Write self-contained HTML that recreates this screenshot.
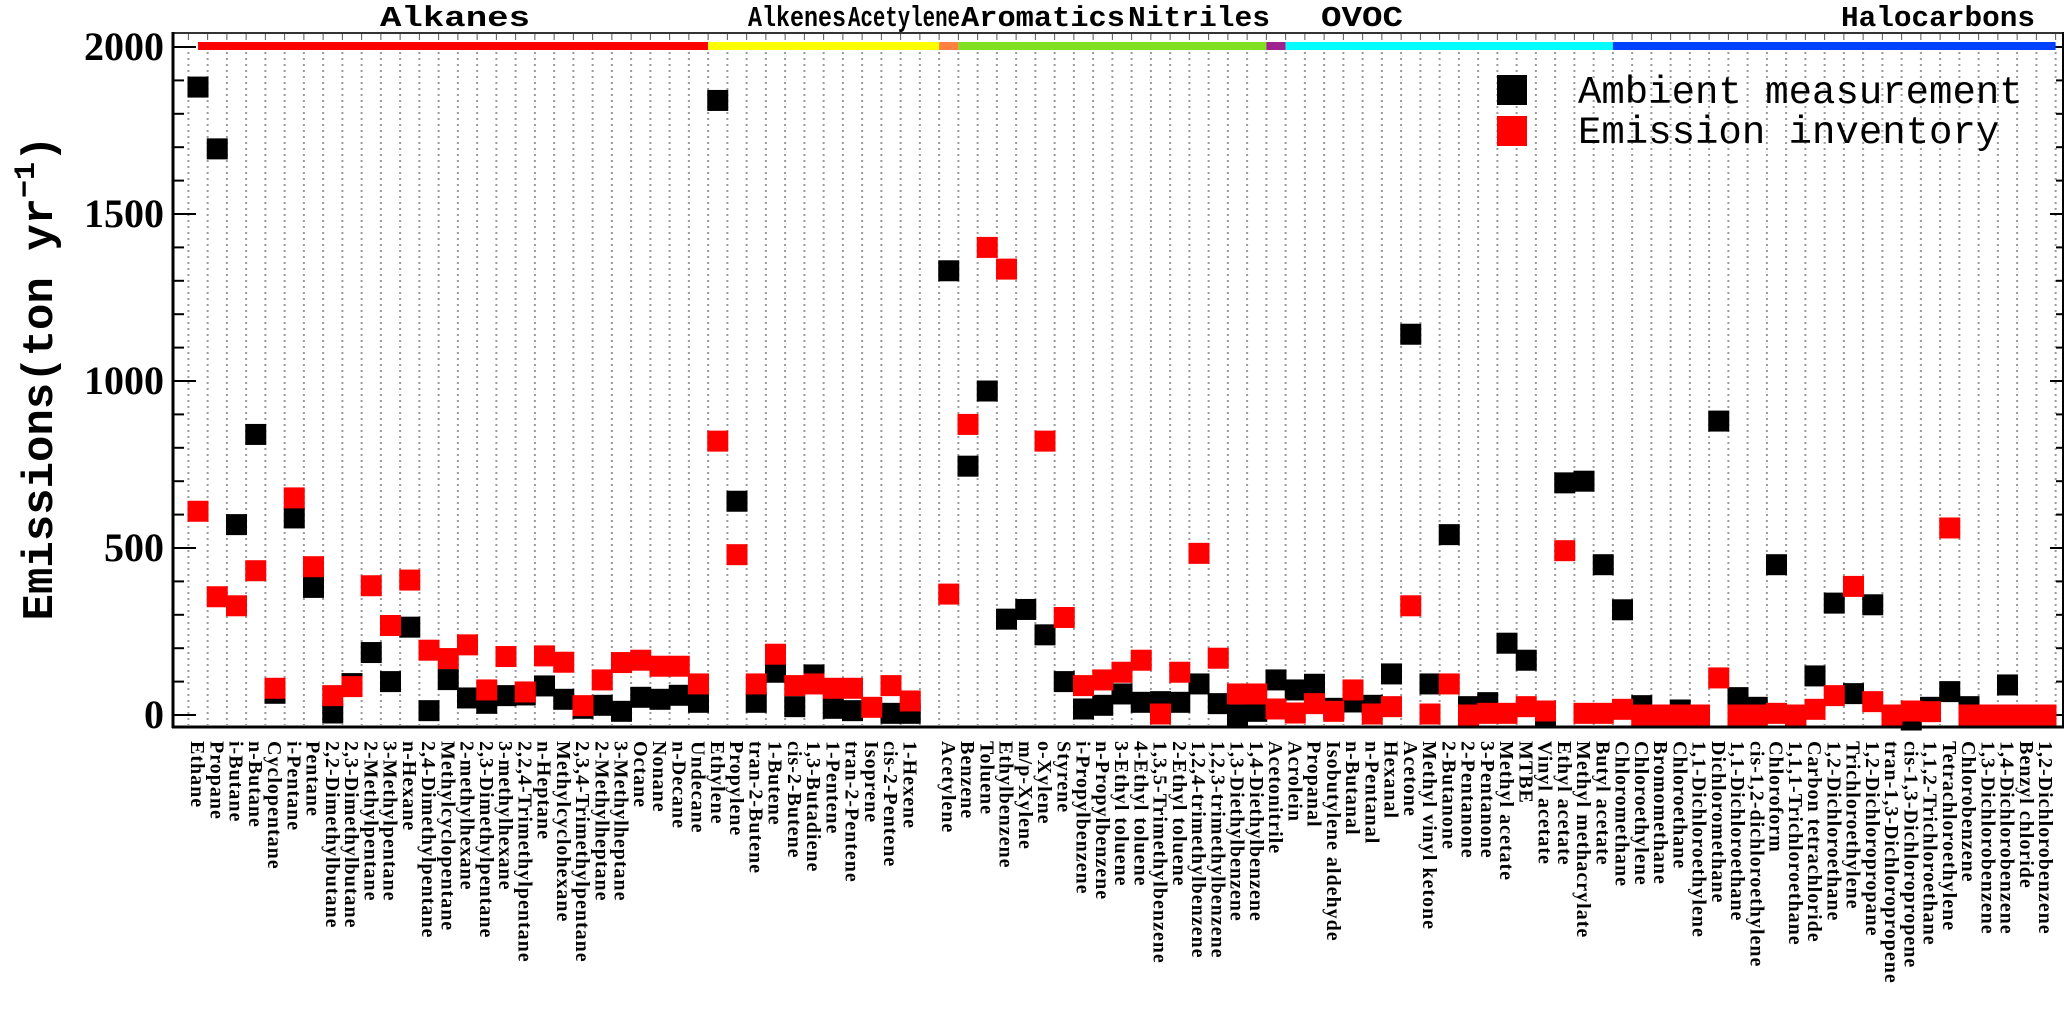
<!DOCTYPE html>
<html><head><meta charset="utf-8">
<style>
html,body{margin:0;padding:0;background:#fff;}
svg{display:block;}
</style></head>
<body>
<svg id="chart" width="2067" height="1019" viewBox="0 0 2067 1019" xmlns="http://www.w3.org/2000/svg">
</svg>
<script>
const categories = ["Ethane","Propane","i-Butane","n-Butane","Cyclopentane","i-Pentane","Pentane","2,2-Dimethylbutane","2,3-Dimethylbutane","2-Methylpentane","3-Methylpentane","n-Hexane","2,4-Dimethylpentane","Methylcyclopentane","2-methylhexane","2,3-Dimethylpentane","3-methylhexane","2,2,4-Trimethylpentane","n-Heptane","Methylcyclohexane","2,3,4-Trimethylpentane","2-Methylheptane","3-Methylheptane","Octane","Nonane","n-Decane","Undecane",
"Ethylene","Propylene","tran-2-Butene","1-Butene","cis-2-Butene","1,3-Butadiene","1-Pentene","tran-2-Pentene","Isoprene","cis-2-Pentene","1-Hexene","",
"Acetylene",
"Benzene","Toluene","Ethylbenzene","m/p-Xylene","o-Xylene","Styrene","i-Propylbenzene","n-Propylbenzene","3-Ethyl toluene","4-Ethyl toluene","1,3,5-Trimethylbenzene","2-Ethyl toluene","1,2,4-trimethylbenzene","1,2,3-trimethylbenzene","1,3-Diethylbenzene","1,4-Diethylbenzene",
"Acetonitrile",
"Acrolein","Propanal","Isobutylene aldehyde","n-Butanal","n-Pentanal","Hexanal","Acetone","Methyl vinyl ketone","2-Butanone","2-Pentanone","3-Pentanone","Methyl acetate","MTBE","Vinyl acetate","Ethyl acetate","Methyl methacrylate","Butyl acetate",
"Chloromethane","Chloroethylene","Bromomethane","Chloroethane","1,1-Dichloroethylene","Dichloromethane","1,1-Dichloroethane","cis-1,2-dichloroethylene","Chloroform","1,1,1-Trichloroethane","Carbon tetrachloride","1,2-Dichloroethane","Trichloroethylene","1,2-Dichloropropane","tran-1,3-Dichloropropene","cis-1,3-Dichloropropene","1,1,2-Trichloroethane","Tetrachloroethylene","Chlorobenzene","1,3-Dichlorobenzene","1,4-Dichlorobenzene","Benzyl chloride","1,2-Dichlorobenzene"];

const ambient = [1880,1695,570,840,65,590,382,6,94,187,100,263,13,106,51,35,58,60,87,47,20,29,11,53,47,59,38,
1840,640,38,128,25,120,20,13,null,5,5,null,
1330,
745,970,287,316,240,100,18,29,63,38,40,38,93,34,0,11,
105,
75,92,20,39,29,123,1140,93,540,25,37,215,164,0,695,700,450,
315,28,0,15,0,880,52,23,450,0,117,335,64,330,0,-15,23,70,25,0,90,0,0];

const inventory = [610,354,327,432,80,650,444,58,85,387,268,404,194,169,210,75,175,69,177,158,28,105,157,164,146,146,93,
820,480,93,182,88,93,80,80,23,88,42,null,
362,
870,1400,1335,null,820,292,88,105,128,164,3,128,484,170,63,63,
18,
6,34,11,75,3,25,327,3,93,0,5,5,25,12,492,5,5,
17,0,0,0,0,111,0,0,5,0,17,58,385,40,0,12,10,560,0,0,0,0,0];

const groupNames = ["Alkanes","Alkenes","Acetylene","Aromatics","Nitriles","OVOC","Halocarbons"];
const groupStart = [0,27,39,40,56,57,74];
const groupEnd = [26,38,39,55,56,73,96];
const groupColors = ["#ff0000","#ffff00","#ff8040","#80e020","#a0208f","#00ffff","#0040ff"];
const groupLabelLeft = [380,748,848,961,1128,1321,1841];
const groupLabelWidth = [150,98,112,164,142,82,194];

const yTicks = [0,500,1000,1500,2000];

const NS = "http://www.w3.org/2000/svg";
const svg = document.getElementById("chart");
const X0 = 198, DX = 19.25;
const Y0 = 715, KY = 0.334;
const xs = i => X0 + i*DX;
const ys = v => Y0 - v*KY;
function mk(tag, attrs, parent){
  const e = document.createElementNS(NS, tag);
  for (const k in attrs) e.setAttribute(k, attrs[k]);
  (parent||svg).appendChild(e);
  return e;
}

// gridlines
const grid = mk("g", {});


for (let k=0;k<=categories.length;k++){
  const gx = xs(k) - DX/2;
  const l = mk("line",{x1:gx,x2:gx,y1:52,y2:725,stroke:"#9a9a9a","stroke-width":2,"stroke-dasharray":"2 4"},grid);
  
  
  const t = mk("line",{x1:gx,x2:gx,y1:34,y2:40,stroke:"#555","stroke-width":1},grid);
  
  
}

// axes frame
const fr = mk("g",{});


mk("line",{x1:173,x2:2063,y1:33,y2:33,stroke:"#333","stroke-width":2},fr);
mk("line",{x1:173,x2:173,y1:32,y2:728,stroke:"#000","stroke-width":3},fr);
mk("line",{x1:172,x2:2064,y1:727,y2:727,stroke:"#000","stroke-width":3},fr);
mk("line",{x1:2063,x2:2063,y1:32,y2:728,stroke:"#000","stroke-width":2},fr);

// y ticks
for (let v=0; v<=2000; v+=100){
  const major = v%500===0;
  const y = ys(v);
  const t1 = mk("line",{x1:173,x2:major?196:184,y1:y,y2:y,stroke:"#000","stroke-width":2});
  
  
  const t2 = mk("line",{x1:2063,x2:major?2050:2056,y1:y,y2:y,stroke:"#000","stroke-width":2});
  
  
}
yTicks.forEach(v=>{
  const t = mk("text",{x:164,y:ys(v)+13,"text-anchor":"end","font-family":"Liberation Serif, serif","font-weight":"bold","font-size":40,fill:"#000"});
  t.textContent = v;
  
  
});

// y-axis title
const yt = mk("text",{transform:"translate(52,378) rotate(-90)","text-anchor":"middle","font-family":"Liberation Mono, monospace","font-weight":"bold","font-size":44,fill:"#000"});


yt.appendChild(document.createTextNode("Emissions(ton yr"));
const sup = mk("tspan",{dy:-18,"font-size":30},yt);
sup.textContent = "\u22121";
const cl = mk("tspan",{dy:18},yt);
cl.textContent = ")";

// group bar + labels
groupNames.forEach((g,i)=>{
  const x1 = xs(groupStart[i]) - DX/2, x2 = xs(groupEnd[i]) + DX/2;
  const r = mk("rect",{x:i===0?x1+DX/2:x1,y:42,width:(i===0?x2-x1-DX/2:x2-x1),height:8,fill:groupColors[i]});
  
  
  const t = mk("text",{x:groupLabelLeft[i],y:26,textLength:groupLabelWidth[i],lengthAdjust:"spacingAndGlyphs","font-family":"Liberation Mono, monospace","font-weight":"bold","font-size":29,fill:"#000"});
  t.textContent = g;
  
  
});

// markers
const S = 21;
const ga = mk("g",{});


ambient.forEach((v,i)=>{
  if (v===null) return;
  const r = mk("rect",{x:xs(i)-S/2,y:ys(v)-S/2,width:S,height:S,fill:"#000"},ga);
  
  
});
const gi = mk("g",{});


inventory.forEach((v,i)=>{
  if (v===null) return;
  const r = mk("rect",{x:xs(i)-S/2,y:ys(v)-S/2,width:S,height:S,fill:"#ff0000"},gi);
  
  
});

// x labels
categories.forEach((c,i)=>{
  if (!c) return;
  const t = mk("text",{transform:`translate(${xs(i)-7},741) rotate(90)`,"font-family":"Liberation Serif, serif","font-weight":"bold","font-size":20,"letter-spacing":"1",fill:"#000"});
  t.textContent = c;
  
  
});

// legend
const lg = mk("g",{});


const l1 = mk("rect",{x:1497,y:75,width:30,height:30,fill:"#000"},lg);


const l2 = mk("rect",{x:1497,y:116,width:30,height:30,fill:"#ff0000"},lg);


const lt1 = mk("text",{x:1578,y:103,"font-family":"Liberation Mono, monospace","font-size":39,fill:"#000"},lg);
lt1.textContent = "Ambient measurement";


const lt2 = mk("text",{x:1578,y:143,"font-family":"Liberation Mono, monospace","font-size":39,fill:"#000"},lg);
lt2.textContent = "Emission inventory";


</script>
</body></html>
